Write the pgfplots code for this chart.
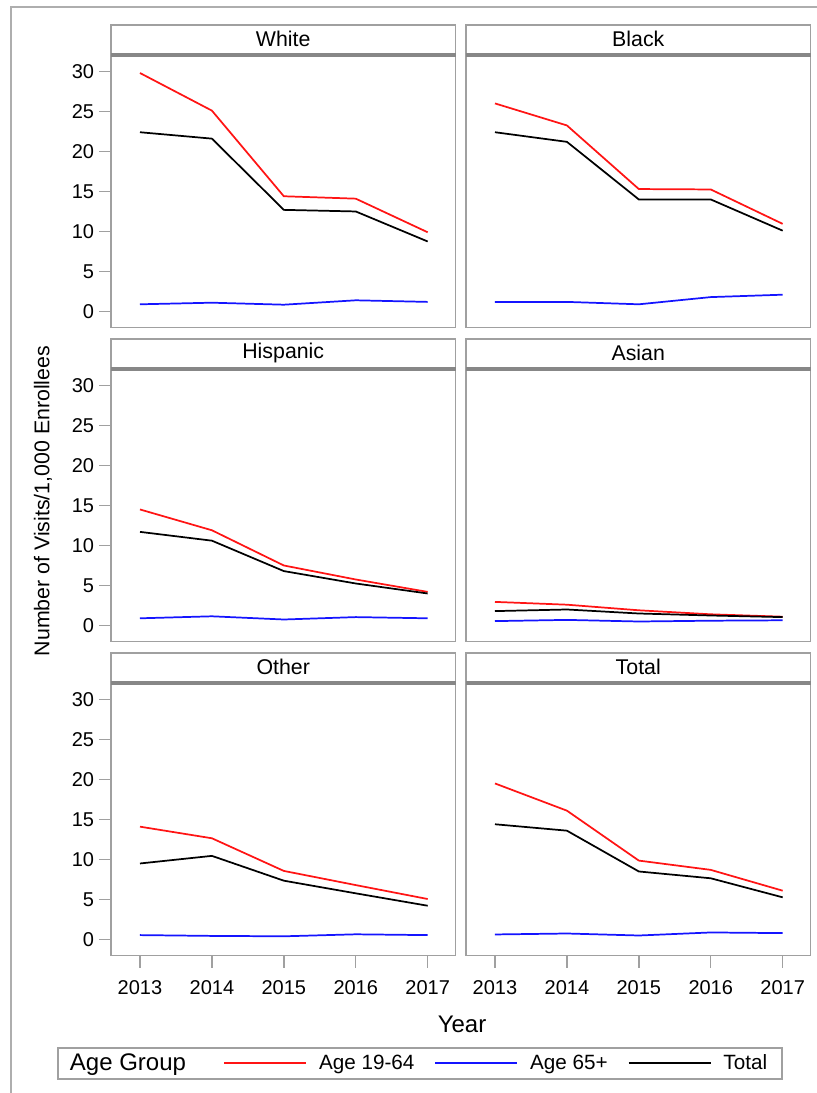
\documentclass[border=0pt]{standalone}
\usepackage{fontspec}
\setmainfont{Liberation Sans}
\usepackage{pgfplots}
\usepackage{pgfplotstable}
\pgfplotsset{compat=1.18}

\definecolor{framegray}{RGB}{160,160,160}
\definecolor{headgray}{RGB}{135,135,135}
\definecolor{lred}{RGB}{255,20,20}
\definecolor{lblue}{RGB}{20,20,255}

% year  age19-64  age65+  total
\pgfplotstableread{
year young old total
2013 29.8  0.9  22.4
2014 25.1  1.1  21.6
2015 14.4  0.85 12.7
2016 14.1  1.4  12.5
2017 9.9   1.2  8.75
}\tWhite
\pgfplotstableread{
year young old total
2013 26.0  1.2  22.4
2014 23.25 1.2  21.2
2015 15.3  0.9  14.0
2016 15.25 1.8  14.0
2017 10.95 2.1  10.1
}\tBlack
\pgfplotstableread{
year young old total
2013 14.5  0.9  11.7
2014 11.9  1.15 10.6
2015 7.5   0.75 6.8
2016 5.75  1.05 5.25
2017 4.2   0.9  4.0
}\tHispanic
\pgfplotstableread{
year young old total
2013 2.95  0.55 1.8
2014 2.6   0.7  2.0
2015 1.9   0.5  1.5
2016 1.4   0.6  1.25
2017 1.1   0.65 1.05
}\tAsian
\pgfplotstableread{
year young old total
2013 14.1  0.55 9.5
2014 12.65 0.45 10.45
2015 8.57  0.4  7.35
2016 6.8   0.65 5.77
2017 5.06  0.55 4.22
}\tOther
\pgfplotstableread{
year young old total
2013 19.5  0.63 14.4
2014 16.1  0.75 13.6
2015 9.86  0.5  8.5
2016 8.7   0.88 7.65
2017 6.1   0.8  5.27
}\tTotal

\pgfplotsset{
  panel/.style={
    scale only axis,
    width=258.375pt, height=204.375pt,
    anchor=north west,
    xmin=2012.597, xmax=2017.387,
    ymin=-2, ymax=32.05,
    axis line style={draw=framegray, line width=1.4pt},
    tick style={draw=framegray, line width=1.1pt},
    major tick length=9pt,
    tick align=outside,
    xtick pos=bottom, ytick pos=left,
    ytick={0,5,...,30},
    xtick=\empty,
    /pgf/number format/assume math mode=true,
    /pgf/number format/1000 sep={},
    tick label style={font=\fontsize{15pt}{18pt}\selectfont},
    yticklabel style={inner xsep=3.5pt},
    xticklabel style={yshift=-6.5pt},
    every axis title/.style={at={(0.5,1)}, anchor=south, draw=framegray,
      line width=1.4pt, minimum width=258.375pt, minimum height=22.125pt,
      inner sep=0pt, font=\fontsize{16pt}{19pt}\selectfont},
    extra description/.code={\draw[headgray, line width=2.4pt] (0,1) -- (1,1);},
    clip=false,
  },
  bottomrow/.style={xtick={2013,2014,2015,2016,2017}},
  rightcol/.style={ytick=\empty},
  young/.style={lred, line width=1.3pt},
  old/.style={lblue, line width=1.3pt},
  tot/.style={black, line width=1.3pt},
}

\begin{document}
\begin{tikzpicture}
\useasboundingbox (0pt,0pt) rectangle (612.75pt,-819.75pt);
\draw[framegray!85, line width=1.4pt] (8.25pt,-830pt) -- (8.25pt,-5.25pt) -- (620pt,-5.25pt);

% Row 1
\begin{axis}[panel, at={(83.25pt,-41.25pt)}, title={White}]
  \addplot[young] table[x=year,y=young]{\tWhite};
  \addplot[old]   table[x=year,y=old]{\tWhite};
  \addplot[tot]   table[x=year,y=total]{\tWhite};
\end{axis}
\begin{axis}[panel, rightcol, at={(349.5pt,-41.25pt)}, title={Black}]
  \addplot[young] table[x=year,y=young]{\tBlack};
  \addplot[old]   table[x=year,y=old]{\tBlack};
  \addplot[tot]   table[x=year,y=total]{\tBlack};
\end{axis}

% Row 2
\begin{axis}[panel, at={(83.25pt,-276.75pt)}, title={Hispanic}]
  \addplot[young] table[x=year,y=young]{\tHispanic};
  \addplot[old]   table[x=year,y=old]{\tHispanic};
  \addplot[tot]   table[x=year,y=total]{\tHispanic};
\end{axis}
\begin{axis}[panel, rightcol, at={(349.5pt,-276.75pt)}, title={Asian}]
  \addplot[young] table[x=year,y=young]{\tAsian};
  \addplot[old]   table[x=year,y=old]{\tAsian};
  \addplot[tot]   table[x=year,y=total]{\tAsian};
\end{axis}

% Row 3
\begin{axis}[panel, bottomrow, at={(83.25pt,-512.25pt)}, title={Other},
  legend columns=4,
  legend cell align=left,
  legend image code/.code={\draw[#1] (0pt,0pt) -- (61.5pt,0pt);},
  legend style={at={(-0.15675,-0.33578)}, anchor=north west,
    draw=framegray, line width=1.4pt, inner xsep=0pt, inner ysep=4.5pt,
    nodes={inner sep=0pt, font=\fontsize{15.5pt}{18.5pt}\selectfont},
    /tikz/every odd column/.append style={column sep=9pt},
    /tikz/every even column/.append style={column sep=15pt}},
]
  \addlegendimage{empty legend}
  \addlegendentry{\fontsize{18pt}{21pt}\selectfont Age Group\hspace*{13pt}}
  \addplot[young] table[x=year,y=young]{\tOther};
  \addlegendentry{Age 19-64}
  \addplot[old]   table[x=year,y=old]{\tOther};
  \addlegendentry{Age 65+}
  \addplot[tot]   table[x=year,y=total]{\tOther};
  \addlegendentry{Total\hspace*{11pt}}
\end{axis}
\begin{axis}[panel, bottomrow, rightcol, at={(349.5pt,-512.25pt)}, title={Total}]
  \addplot[young] table[x=year,y=young]{\tTotal};
  \addplot[old]   table[x=year,y=old]{\tTotal};
  \addplot[tot]   table[x=year,y=total]{\tTotal};
\end{axis}

\node[rotate=90, font=\fontsize{16pt}{19pt}\selectfont] at (32.25pt,-375.75pt) {Number of Visits/1,000 Enrollees};
\node[font=\fontsize{18pt}{21pt}\selectfont] at (346.5pt,-768pt) {Year};
\end{tikzpicture}
\end{document}
